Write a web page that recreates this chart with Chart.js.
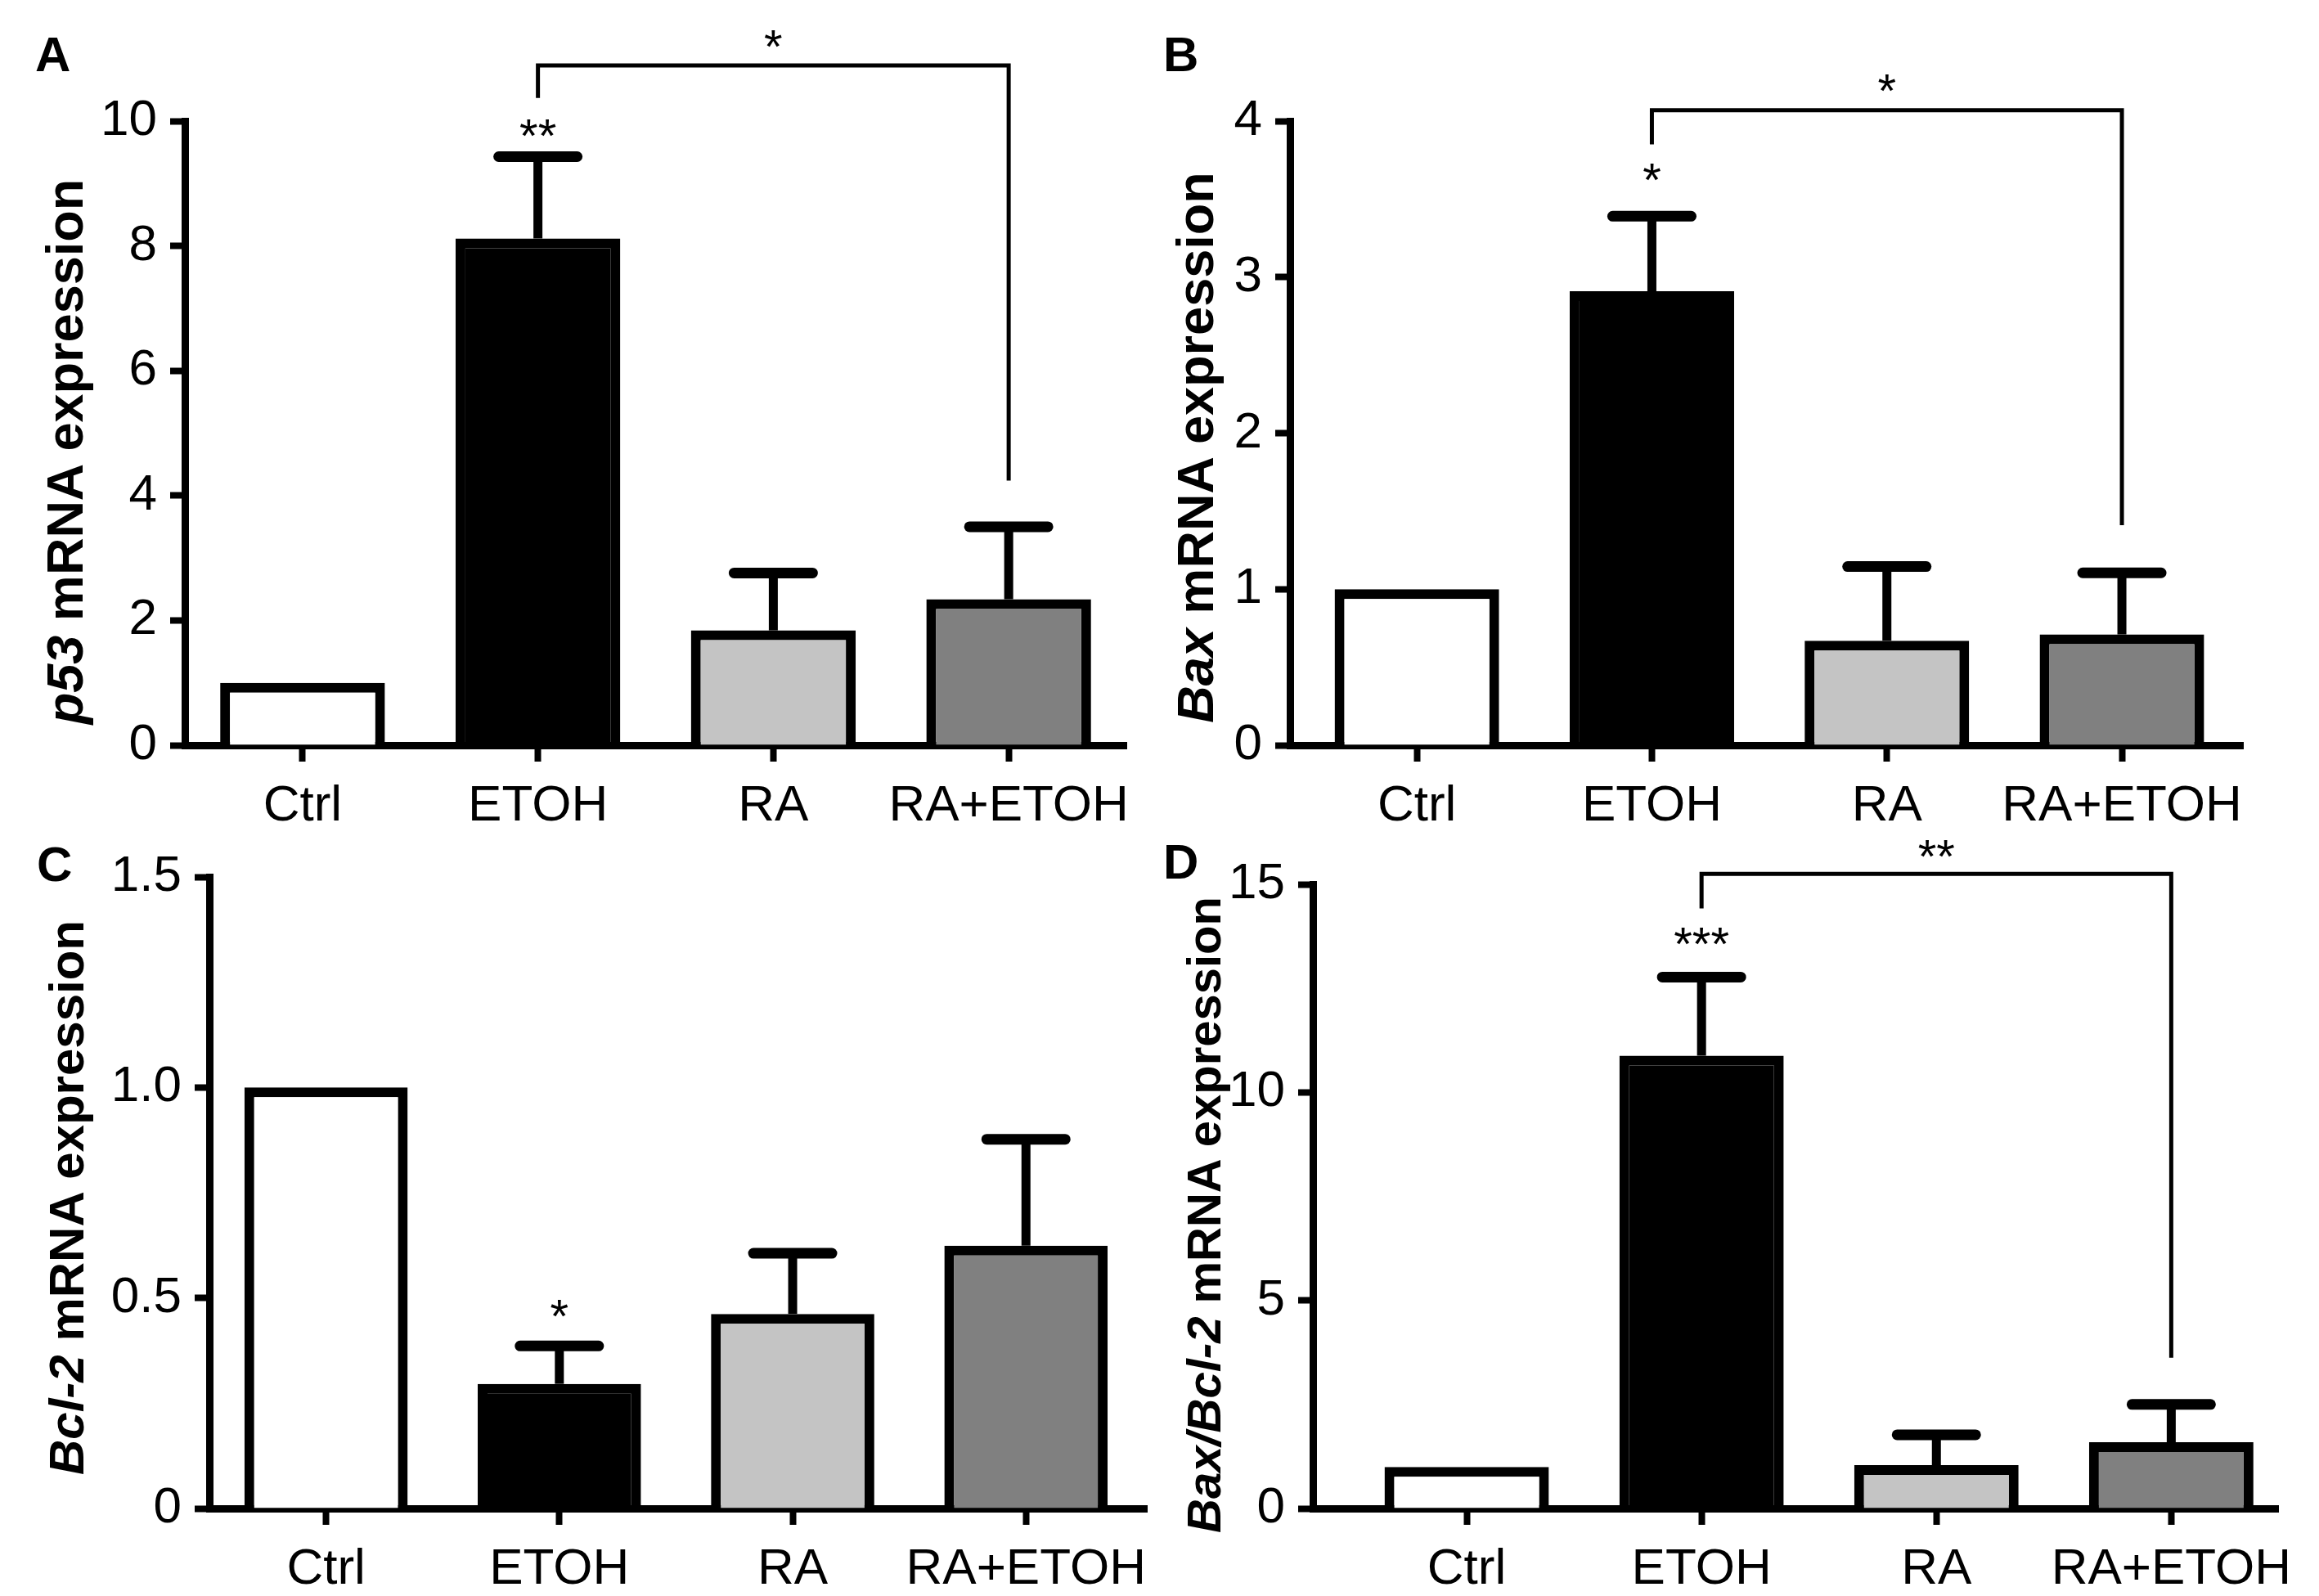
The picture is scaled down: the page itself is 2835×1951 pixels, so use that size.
<!DOCTYPE html>
<html>
<head>
<meta charset="utf-8">
<script src="https://cdn.jsdelivr.net/npm/chart.js@4.4.1/dist/chart.umd.min.js"></script>
<style>
  body { margin: 0; width: 2835px; height: 1951px; background: #fff; position: relative; overflow: hidden;
         font-family: 'Liberation Sans', Arial, sans-serif; color: #000; }
  .panel { position: absolute; }
  .panel canvas { display: block; }
  .letter { position: absolute; font-weight: bold; font-size: 60px; line-height: 1; }
  .ytitle { position: absolute; font-weight: bold; font-size: 60px; line-height: 1; white-space: nowrap;
            transform: translate(-50%, -50%) rotate(-90deg); }
</style>
</head>
<body>

<div class="letter" style="left:43px; top:37px">A</div>
<div class="letter" style="left:1422px; top:37px">B</div>
<div class="letter" style="left:45px; top:1027px">C</div>
<div class="letter" style="left:1422px; top:1024px">D</div>

<div class="ytitle" style="left:79px; top:552px; font-size:63px"><i>p53</i> mRNA expression</div>
<div class="ytitle" style="left:1461px; top:547px; font-size:63px"><i>Bax</i> mRNA expression</div>
<div class="ytitle" style="left:82px; top:1464px"><i>Bcl-2</i> mRNA expression</div>
<div class="ytitle" style="left:1472px; top:1485px; font-size:58px"><i>Bax/Bcl-2</i> mRNA expression</div>

<div class="panel" style="left:0px; top:0px"><canvas id="chartA" width="1420" height="1040"></canvas></div>
<div class="panel" style="left:1420px; top:0px"><canvas id="chartB" width="1415" height="1040"></canvas></div>
<div class="panel" style="left:0px; top:960px"><canvas id="chartC" width="1420" height="991"></canvas></div>
<div class="panel" style="left:1420px; top:960px"><canvas id="chartD" width="1415" height="991"></canvas></div>

<script>
// groups on the x axis (same for all four panels)
const categories = ['Ctrl', 'ETOH', 'RA', 'RA+ETOH'];

// A: p53
const p53Mean = [1.0, 8.12, 1.84, 2.34];
const p53Sem  = [0, 1.31, 0.92, 1.16];
const p53Ticks = ['0', '2', '4', '6', '8', '10'];

// B: Bax
const baxMean = [1.0, 2.91, 0.67, 0.71];
const baxSem  = [0, 0.48, 0.475, 0.395];
const baxTicks = ['0', '1', '2', '3', '4'];

// C: Bcl-2
const bcl2Mean = [1.0, 0.296, 0.462, 0.624];
const bcl2Sem  = [0, 0.09, 0.144, 0.253];
const bcl2Ticks = ['0', '0.5', '1.0', '1.5'];

// D: Bax/Bcl-2 ratio
const ratioMean = [1.0, 10.88, 1.04, 1.59];
const ratioSem  = [0, 1.89, 0.73, 0.91];
const ratioTicks = ['0', '5', '10', '15'];

const barColors = ['#ffffff', '#000000', '#c4c4c4', '#808080'];
const tickFont = { family: "'Liberation Sans Narrow', 'Arial Narrow', 'Liberation Sans', sans-serif", size: 62 };
const starFont = "58px 'Liberation Sans', Arial, sans-serif";

document.addEventListener('DOMContentLoaded', () => {
    makePanel('chartA', p53Mean, p53Sem, p53Ticks,
        { yW: 226, pt: 148, pr: 43, xH: 129, xMin: -0.5, xMax: 3.5 },
        [{ idx: 1, text: '**', y: 9.88 }],
        { from: 1, to: 3, y: 10.89, leftEnd: 10.37, rightEnd: 4.24, text: '*', textY: 11.31 });

    makePanel('chartB', baxMean, baxSem, baxTicks,
        { yW: 157, pt: 148, pr: 93, xH: 129, xMin: -0.54, xMax: 3.515 },
        [{ idx: 1, text: '*', y: 3.67 }],
        { from: 1, to: 3, y: 4.07, leftEnd: 3.85, rightEnd: 1.41, text: '*', textY: 4.24 });

    makePanel('chartC', bcl2Mean, bcl2Sem, bcl2Ticks,
        { yW: 256, pt: 112, pr: 8, xH: 107, xMin: -0.5, xMax: 3.52 },
        [{ idx: 1, text: '*', y: 0.475 }],
        null);

    makePanel('chartD', ratioMean, ratioSem, ratioTicks,
        { yW: 185, pt: 121, pr: 50, xH: 107, xMin: -0.655, xMax: 3.455 },
        [{ idx: 1, text: '***', y: 13.75 }],
        { from: 1, to: 3, y: 15.25, leftEnd: 14.42, rightEnd: 3.62, text: '**', textY: 15.85 });
});

function makePanel(canvasId, mean, sem, tickLabels, box, stars, bracket) {
    const yMax = Number(tickLabels[tickLabels.length - 1]);
    const yStep = Number(tickLabels[1]);

    // upper SEM whiskers + significance marks, placed with the chart's own scales
    const marks = {
        id: 'marks_' + canvasId,
        afterDatasetsDraw(chart) {
            const ctx = chart.ctx;
            const y = chart.scales.y;
            const bars = chart.getDatasetMeta(0).data;
            ctx.save();
            ctx.strokeStyle = '#000';
            ctx.fillStyle = '#000';

            sem.forEach((e, i) => {
                if (!e) return;
                const x = bars[i].x;
                const top = y.getPixelForValue(mean[i]);
                const cap = y.getPixelForValue(mean[i] + e);
                ctx.lineCap = 'butt';
                ctx.lineWidth = 11;
                ctx.beginPath();
                ctx.moveTo(x, top);
                ctx.lineTo(x, cap);
                ctx.stroke();
                ctx.lineCap = 'round';
                ctx.lineWidth = 13;
                ctx.beginPath();
                ctx.moveTo(x - 48, cap);
                ctx.lineTo(x + 48, cap);
                ctx.stroke();
            });

            ctx.font = starFont;
            ctx.textAlign = 'center';
            ctx.textBaseline = 'alphabetic';
            stars.forEach(s => {
                ctx.fillText(s.text, bars[s.idx].x, y.getPixelForValue(s.y) + 29);
            });

            if (bracket) {
                const x1 = bars[bracket.from].x;
                const x2 = bars[bracket.to].x;
                const yb = y.getPixelForValue(bracket.y);
                ctx.lineWidth = 5;
                ctx.lineCap = 'butt';
                ctx.lineJoin = 'miter';
                ctx.beginPath();
                ctx.moveTo(x1, y.getPixelForValue(bracket.leftEnd));
                ctx.lineTo(x1, yb);
                ctx.lineTo(x2, yb);
                ctx.lineTo(x2, y.getPixelForValue(bracket.rightEnd));
                ctx.stroke();
                ctx.fillText(bracket.text, (x1 + x2) / 2, y.getPixelForValue(bracket.textY) + 29);
            }
            ctx.restore();
        }
    };

    new Chart(document.getElementById(canvasId), {
        type: 'bar',
        data: {
            datasets: [{
                data: mean.map((v, i) => ({ x: i, y: v })),
                backgroundColor: barColors,
                borderColor: '#000',
                borderWidth: 12,
                borderSkipped: 'start',
                barPercentage: 0.7,
                categoryPercentage: 1
            }]
        },
        options: {
            responsive: false,
            maintainAspectRatio: false,
            animation: false,
            layout: { padding: { top: box.pt, right: box.pr, left: 0, bottom: 0 } },
            plugins: { legend: { display: false }, tooltip: { enabled: false } },
            scales: {
                x: {
                    type: 'linear',
                    min: box.xMin,
                    max: box.xMax,
                    offset: false,
                    grid: { offset: false, drawOnChartArea: false, tickLength: 20, tickWidth: 8, tickColor: '#000' },
                    border: { display: true, color: '#000', width: 9 },
                    afterBuildTicks: s => { s.ticks = categories.map((c, i) => ({ value: i })); },
                    ticks: {
                        color: '#000',
                        font: tickFont,
                        padding: 18,
                        maxRotation: 0,
                        autoSkip: false,
                        callback: v => categories[v]
                    },
                    afterFit: s => { s.height = box.xH; }
                },
                y: {
                    min: 0,
                    max: yMax,
                    grid: { drawOnChartArea: false, tickLength: 18, tickWidth: 8, tickColor: '#000' },
                    border: { display: true, color: '#000', width: 9 },
                    ticks: {
                        stepSize: yStep,
                        color: '#000',
                        font: tickFont,
                        padding: 16,
                        callback: (v, i) => tickLabels[i]
                    },
                    afterFit: s => { s.width = box.yW; }
                }
            }
        },
        plugins: [marks]
    });
}
</script>
</body>
</html>
